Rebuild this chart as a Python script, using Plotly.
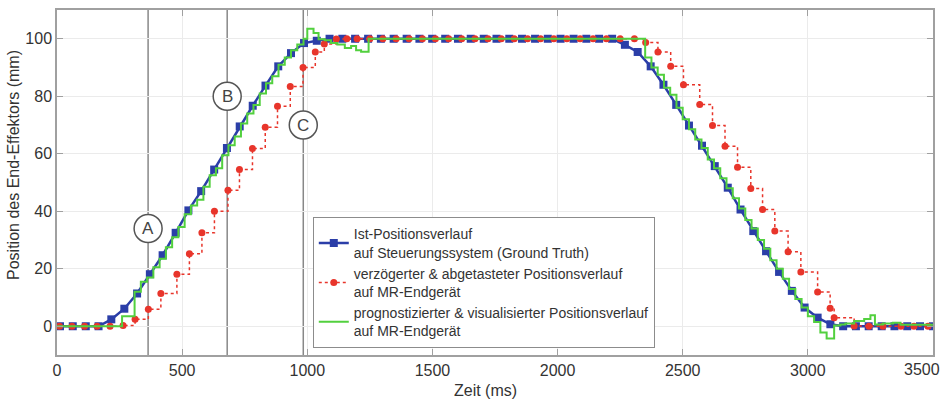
import plotly.graph_objects as go

# ---------------- data ----------------
blue_t = [12, 63, 115, 166, 217, 269, 320, 371, 422, 474, 525, 576, 628, 679, 730, 782, 833, 884, 935, 987, 1038,
          1089, 1140, 1191, 1243, 1294, 1345, 1397, 1448, 1499, 1551, 1602, 1653, 1705, 1756, 1807, 1858, 1910,
          1961, 2012, 2064, 2115, 2166, 2218,
          2269, 2320, 2372, 2423, 2474, 2525, 2577, 2628, 2680, 2731, 2782, 2833, 2885, 2936, 2987, 3039, 3090,
          3141, 3192, 3243, 3295, 3346, 3397, 3448, 3500]
blue_v = [0, 0, 0, 0, 2.4, 6.1, 11.4, 18.1, 24.7, 32.5, 40.3, 47, 54.5, 62, 69.5, 76.7, 83.7, 90.4, 95, 98.5, 99.3,
          100, 100, 100, 100, 100, 100, 100, 100, 100, 100, 100, 100, 100, 100, 100, 100, 100,
          100, 100, 100, 100, 100, 100,
          97.9, 95.4, 90.4, 84, 77, 69.8, 62.8, 55.7, 48.2, 40.6, 33.1, 26.1, 18.9, 12.3, 6.5, 3.0, 0.7,
          0, 0, 0, 0, 0, 0, 0, 0]

red_t = [10, 60, 110, 160, 212, 264,
         312, 365, 415, 479, 529, 579, 629,
         683, 729, 781, 832, 881, 932, 983,
         1032, 1068, 1116,
         1158, 1199, 1250, 1302, 1355, 1407, 1460, 1512, 1565, 1617, 1670, 1722, 1775, 1827, 1880, 1932, 1985,
         2037, 2090, 2142, 2195, 2250, 2307,
         2352, 2401, 2452, 2503, 2568, 2619, 2669,
         2719, 2772, 2819, 2868, 2921, 2972, 3039,
         3089, 3105, 3185, 3244, 3300, 3372, 3424, 3480]
red_v = [0, 0, 0, 0, 0, 0.3,
         2.4, 5.9, 11.4, 18.1, 25.2, 32.5, 40,
         47.3, 54.5, 61.8, 69.2, 76.5, 83.4, 90,
         95.4, 98.2, 99.9,
         100, 100, 100, 100, 100, 100, 100, 100, 100, 100, 100, 100, 100, 100, 100, 100, 100,
         100, 100, 100, 100, 100, 100,
         98.7, 95.4, 90.4, 84, 77.1, 69.8, 62.6,
         55.3, 47.9, 40.6, 33.1, 25.9, 18.9, 11.9,
         6.25, 3, 0.1, 0, 0, 0, 0, 0]

green_t = [0, 260, 310, 335, 360, 385, 410, 435, 460, 485, 510, 535, 560, 585, 610, 635, 660, 685, 710, 735,
           760, 785, 810, 835, 860, 885, 910, 935, 960, 985, 1000, 1025, 1045, 1070, 1095, 1120, 1150, 1175,
           1195, 1215, 1245,
           2350, 2375, 2400, 2425, 2450, 2475, 2500, 2525, 2550, 2575, 2600, 2625, 2650, 2675, 2700, 2725,
           2750, 2775, 2800, 2825, 2850, 2875, 2900, 2925, 2950, 2975, 3000, 3025, 3050, 3075,
           3105, 3130, 3150, 3185, 3225, 3250, 3268, 3300, 3340, 3370, 3500]
green_v = [0, 3.5, 12, 15.5, 17, 20.5, 23.5, 27.5, 31, 34.5, 39, 42, 44, 48.5, 52.5, 55, 59.5, 63, 66, 70.5,
           74, 77, 81, 84.5, 87, 91, 93.5, 96, 98, 100, 103.5, 102, 99.8, 99.5, 98.5, 98, 96.8, 97.5,
           96, 95.5, 100,
           93.5, 90, 87.5, 83, 80.5, 76, 72, 68.5, 65, 62, 58, 55, 51.5, 48, 44.5, 41,
           37, 34, 30, 27, 23, 20, 16.5, 13, 9.5, 6.5, 3.5, 1.5, -2.2, -4.3,
           0.3, 0.6, 1, 1.8, 2.5, 3.8, 0.6, 1.0, 1.2, 0.5, 0.5]

marker_t = [364, 680, 984]
marker_label = ["A", "B", "C"]
marker_label_y = [34, 80, 70]

x_ticks = [0, 500, 1000, 1500, 2000, 2500, 3000, 3500]
x_ticktext = ["0", "500", "1000", "1500", "2000", "2500", "3000", ""]
x_last_label = "3500"
y_ticks = [0, 20, 40, 60, 80, 100]

names = ["Ist-Positionsverlauf<br>auf Steuerungssystem (Ground Truth)",
         "verzögerter & abgetasteter Positionsverlauf<br>auf MR-Endgerät",
         "prognostizierter & visualisierter Positionsverlauf<br>auf MR-Endgerät"]

# ---------------- figure ----------------
FONT = "Liberation Sans, Arial, sans-serif"
fig = go.Figure()

fig.add_trace(go.Scatter(x=blue_t, y=blue_v, mode="lines+markers", name=names[0],
                         line=dict(color="#2b3ea8", width=2.5),
                         marker=dict(symbol="square", size=8, color="#2b3ea8")))
fig.add_trace(go.Scatter(x=red_t, y=red_v, mode="lines+markers", name=names[1],
                         line=dict(color="#e8352b", width=1.5, dash="dot", shape="hv"),
                         marker=dict(symbol="circle", size=7, color="#e8352b")))
fig.add_trace(go.Scatter(x=green_t, y=green_v, mode="lines", name=names[2],
                         line=dict(color="#52d03e", width=2, shape="hv")))

for t, lab, ly in zip(marker_t, marker_label, marker_label_y):
    fig.add_shape(type="line", x0=t, x1=t, y0=0, y1=1, xref="x", yref="paper",
                  line=dict(color="#888888", width=1.5), layer="below")
    fig.add_shape(type="circle", xref="x", yref="y", xsizemode="pixel", ysizemode="pixel",
                  xanchor=t, yanchor=ly, x0=-14, x1=14, y0=-14, y1=14,
                  line=dict(color="#555555", width=1.5), fillcolor="white", layer="above")
    fig.add_annotation(x=t, y=ly, text=lab, showarrow=False,
                       font=dict(family=FONT, size=17, color="#444444"))

fig.add_annotation(x=0.489, y=-0.104, xref="paper", yref="paper", text="Zeit (ms)",
                   showarrow=False, font=dict(family=FONT, size=16, color="#333333"),
                   xanchor="center", yanchor="middle")
fig.add_annotation(x=-0.049, y=0.551, xref="paper", yref="paper",
                   text="Position des End-Effektors (mm)", textangle=-90,
                   showarrow=False, font=dict(family=FONT, size=16, color="#333333"),
                   xanchor="center", yanchor="middle")
# last x tick label, shifted left so it stays inside the page (as in the original)
fig.add_annotation(x=1.0, y=0, xref="paper", yref="paper", text=x_last_label,
                   showarrow=False, font=dict(family=FONT, size=16, color="#333333"),
                   xanchor="right", yanchor="top", xshift=9, yshift=-4)

axis_common = dict(showline=True, linecolor="#a0a0a0", linewidth=1.5, mirror="ticks",
                   ticks="inside", ticklen=6, tickcolor="#a0a0a0",
                   showgrid=True, gridcolor="#ebebeb", gridwidth=1, zeroline=False,
                   tickfont=dict(family=FONT, size=16, color="#333333"))

fig.update_xaxes(range=[0, 3500], tickvals=x_ticks, ticktext=x_ticktext, **axis_common)
fig.update_yaxes(range=[-10, 110], tickvals=y_ticks, **axis_common)

fig.update_layout(
    width=948, height=399,
    margin=dict(l=57, r=15, t=10, b=44, autoexpand=False),
    paper_bgcolor="white", plot_bgcolor="white",
    font=dict(family=FONT, color="#333333"),
    legend=dict(x=0.292, y=0.399, xanchor="left", yanchor="top",
                bgcolor="white", bordercolor="#8c8c8c", borderwidth=1,
                font=dict(family=FONT, size=14, color="#333333"),
                tracegroupgap=0),
)

fig.write_html("out.html")
